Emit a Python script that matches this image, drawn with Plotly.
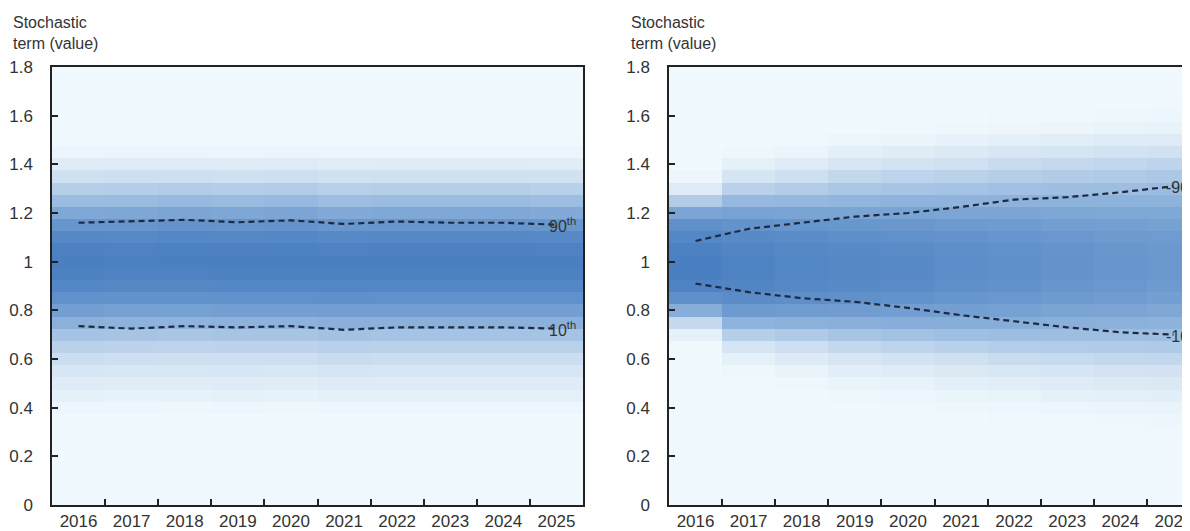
import numpy as np
import plotly.graph_objects as go

# ---------------- data ----------------
years = ["2016", "2017", "2018", "2019", "2020", "2021", "2022", "2023", "2024", "2025"]
y_bins = [0.30, 0.35, 0.40, 0.45, 0.50, 0.55, 0.60, 0.65, 0.70, 0.75, 0.80, 0.85, 0.90, 0.95,
          1.00, 1.05, 1.10, 1.15, 1.20, 1.25, 1.30, 1.35, 1.40, 1.45, 1.50, 1.55, 1.60, 1.65, 1.70]

# density intensity per year (columns listed bottom -> top)
left_density = [
    [0, 0, 0.03, 0.08, 0.13, 0.19, 0.27, 0.36, 0.47, 0.60, 0.72, 0.84, 0.93, 0.98, 1.00, 0.98, 0.92, 0.80, 0.66, 0.52, 0.38, 0.25, 0.13, 0.04, 0.01, 0, 0, 0, 0],
    [0, 0, 0.03, 0.07, 0.12, 0.18, 0.26, 0.35, 0.46, 0.59, 0.71, 0.83, 0.92, 0.97, 0.99, 0.97, 0.91, 0.80, 0.67, 0.53, 0.39, 0.26, 0.14, 0.05, 0.01, 0, 0, 0, 0],
    [0, 0, 0.02, 0.07, 0.12, 0.18, 0.25, 0.34, 0.45, 0.58, 0.71, 0.83, 0.92, 0.97, 1.00, 0.98, 0.93, 0.82, 0.68, 0.54, 0.40, 0.26, 0.14, 0.05, 0.01, 0, 0, 0, 0],
    [0, 0, 0.03, 0.08, 0.13, 0.19, 0.26, 0.35, 0.46, 0.59, 0.72, 0.84, 0.93, 0.98, 1.00, 0.98, 0.92, 0.81, 0.67, 0.53, 0.39, 0.25, 0.13, 0.04, 0.01, 0, 0, 0, 0],
    [0, 0, 0.02, 0.07, 0.12, 0.18, 0.26, 0.35, 0.46, 0.59, 0.72, 0.84, 0.93, 0.98, 1.00, 0.98, 0.93, 0.82, 0.68, 0.54, 0.40, 0.26, 0.14, 0.05, 0.01, 0, 0, 0, 0],
    [0, 0, 0.03, 0.08, 0.14, 0.20, 0.28, 0.37, 0.48, 0.61, 0.73, 0.85, 0.94, 0.98, 1.00, 0.97, 0.91, 0.79, 0.65, 0.51, 0.37, 0.24, 0.12, 0.04, 0.01, 0, 0, 0, 0],
    [0, 0, 0.03, 0.08, 0.13, 0.19, 0.27, 0.36, 0.47, 0.60, 0.72, 0.84, 0.93, 0.98, 1.00, 0.98, 0.92, 0.80, 0.66, 0.52, 0.38, 0.25, 0.13, 0.04, 0.01, 0, 0, 0, 0],
    [0, 0, 0.03, 0.08, 0.13, 0.19, 0.27, 0.36, 0.47, 0.60, 0.72, 0.84, 0.93, 0.98, 1.00, 0.98, 0.92, 0.80, 0.66, 0.52, 0.38, 0.25, 0.13, 0.04, 0.01, 0, 0, 0, 0],
    [0, 0, 0.03, 0.08, 0.13, 0.19, 0.27, 0.36, 0.47, 0.60, 0.72, 0.84, 0.93, 0.98, 1.00, 0.98, 0.92, 0.80, 0.66, 0.52, 0.38, 0.25, 0.13, 0.04, 0.01, 0, 0, 0, 0],
    [0, 0, 0.03, 0.08, 0.13, 0.19, 0.27, 0.36, 0.47, 0.60, 0.72, 0.84, 0.93, 0.98, 1.00, 0.97, 0.91, 0.79, 0.65, 0.51, 0.37, 0.24, 0.12, 0.04, 0.01, 0, 0, 0, 0],
]
right_density = [
    [0, 0, 0, 0, 0, 0, 0, 0.01, 0.08, 0.30, 0.62, 0.85, 0.96, 1.00, 1.00, 0.98, 0.93, 0.85, 0.68, 0.40, 0.14, 0.03, 0, 0, 0, 0, 0, 0, 0],
    [0, 0, 0, 0, 0, 0.02, 0.08, 0.20, 0.38, 0.58, 0.76, 0.88, 0.95, 0.97, 0.97, 0.95, 0.90, 0.82, 0.70, 0.54, 0.36, 0.20, 0.08, 0.02, 0, 0, 0, 0, 0],
    [0, 0, 0, 0, 0.02, 0.06, 0.14, 0.26, 0.42, 0.60, 0.75, 0.86, 0.92, 0.94, 0.94, 0.92, 0.88, 0.80, 0.69, 0.55, 0.40, 0.26, 0.14, 0.05, 0.01, 0, 0, 0, 0],
    [0, 0, 0, 0.02, 0.05, 0.10, 0.19, 0.31, 0.46, 0.61, 0.74, 0.84, 0.90, 0.92, 0.92, 0.90, 0.86, 0.79, 0.69, 0.57, 0.44, 0.31, 0.19, 0.09, 0.03, 0, 0, 0, 0],
    [0, 0, 0.01, 0.03, 0.07, 0.13, 0.22, 0.34, 0.48, 0.62, 0.73, 0.82, 0.88, 0.90, 0.90, 0.88, 0.84, 0.78, 0.69, 0.58, 0.46, 0.34, 0.22, 0.12, 0.05, 0.01, 0, 0, 0],
    [0, 0, 0.02, 0.05, 0.09, 0.16, 0.25, 0.37, 0.50, 0.62, 0.72, 0.80, 0.85, 0.87, 0.87, 0.86, 0.82, 0.76, 0.68, 0.58, 0.47, 0.36, 0.25, 0.15, 0.07, 0.02, 0, 0, 0],
    [0, 0.01, 0.03, 0.06, 0.11, 0.18, 0.28, 0.39, 0.51, 0.62, 0.71, 0.78, 0.83, 0.85, 0.85, 0.84, 0.80, 0.75, 0.68, 0.59, 0.49, 0.38, 0.28, 0.18, 0.09, 0.03, 0.01, 0, 0],
    [0, 0.01, 0.04, 0.08, 0.13, 0.20, 0.29, 0.40, 0.51, 0.61, 0.69, 0.76, 0.80, 0.82, 0.82, 0.81, 0.78, 0.73, 0.67, 0.59, 0.50, 0.40, 0.30, 0.20, 0.11, 0.04, 0.01, 0, 0],
    [0.01, 0.02, 0.05, 0.09, 0.15, 0.22, 0.31, 0.41, 0.51, 0.60, 0.68, 0.74, 0.78, 0.80, 0.80, 0.79, 0.76, 0.72, 0.66, 0.59, 0.51, 0.42, 0.32, 0.22, 0.13, 0.06, 0.02, 0, 0],
    [0.01, 0.03, 0.06, 0.10, 0.16, 0.23, 0.32, 0.42, 0.51, 0.59, 0.66, 0.72, 0.76, 0.78, 0.78, 0.77, 0.75, 0.71, 0.66, 0.59, 0.52, 0.44, 0.34, 0.24, 0.14, 0.07, 0.03, 0.01, 0],
]

left_p90 = [1.160, 1.165, 1.172, 1.162, 1.170, 1.155, 1.165, 1.160, 1.160, 1.152]
left_p10 = [0.735, 0.725, 0.735, 0.730, 0.735, 0.720, 0.730, 0.730, 0.730, 0.725]
right_p90 = [1.085, 1.135, 1.160, 1.185, 1.200, 1.225, 1.255, 1.265, 1.285, 1.310]
right_p10 = [0.910, 0.875, 0.850, 0.835, 0.810, 0.780, 0.755, 0.730, 0.710, 0.700]

y_title = "Stochastic<br>term (value)"

# ---------------- style ----------------
OFF = 8                      # page body margin in the browser
W, H = 1190 - OFF, 531 - OFF
FONT = "Liberation Sans, Arial, sans-serif"
TXT = "#333333"
BG = "#f0f9fd"
CSCALE = [[0, BG], [0.25, "#cfe0f1"], [0.5, "#9fbfe2"], [0.75, "#6e9bd0"], [1, "#4a7fc1"]]
LINE_C = "#1e2a42"


def px(v):
    return v - OFF


plot_top, plot_bot = px(67), px(505)
ydom = [(H - plot_bot) / H, (H - plot_top) / H]
left_dom = [px(52) / W, px(583) / W]
right_dom = [px(669) / W, 1.0]
cat_px = (583 - 52) / 10.0
right_xmax = -0.5 + (W - px(669)) / cat_px

fig = go.Figure()


def add_panel(density, p90, p10, xa, ya, lab90, lab10):
    z = np.array(density).T  # rows = y bins, cols = years
    fig.add_trace(go.Heatmap(x=years, y=y_bins, z=z, colorscale=CSCALE, zmin=0, zmax=1,
                             showscale=False, hoverinfo="skip", xaxis=xa, yaxis=ya))
    for vals in (p90, p10):
        fig.add_trace(go.Scatter(x=years, y=vals, mode="lines", xaxis=xa, yaxis=ya,
                                 line=dict(color=LINE_C, width=2.2, dash="6px,4px"),
                                 showlegend=False, hoverinfo="skip"))
    for vals, lab in ((p90, lab90), (p10, lab10)):
        fig.add_annotation(x=8.85, y=vals[-1], xref=xa, yref=ya, text=lab, showarrow=False,
                           xanchor="left", yanchor="middle", borderpad=0,
                           font=dict(size=16, color=TXT, family=FONT))


add_panel(left_density, left_p90, left_p10, "x", "y", "90<sup>th</sup>", "10<sup>th</sup>")
add_panel(right_density, right_p90, right_p10, "x2", "y2", "-90<sup>th</sup>", "-10<sup>th</sup>")

xcommon = dict(type="category", tickson="boundaries", ticks="inside", ticklen=6, tickwidth=1.5,
               tickcolor="#222", showline=True, linecolor="#222", linewidth=1.5,
               showgrid=False, zeroline=False, automargin=False,
               tickfont=dict(size=17, color=TXT, family=FONT))
ycommon = dict(range=[0, 1.8], dtick=0.2, tick0=0, ticks="inside", ticklen=6, tickwidth=1.5,
               tickcolor="#222", showline=True, linecolor="#222", linewidth=1.5,
               showgrid=False, zeroline=False, automargin=False, ticklabelstandoff=14,
               tickfont=dict(size=17, color=TXT, family=FONT))

fig.update_layout(
    width=W, height=H, margin=dict(l=0, r=0, t=0, b=0),
    paper_bgcolor="white", plot_bgcolor=BG, showlegend=False,
    font=dict(family=FONT, color=TXT),
    xaxis=dict(domain=left_dom, range=[-0.5, 9.5], mirror=True, anchor="y", **xcommon),
    yaxis=dict(domain=ydom, mirror=True, anchor="x", **ycommon),
    xaxis2=dict(domain=right_dom, range=[-0.5, right_xmax], mirror=True, anchor="y2", **xcommon),
    yaxis2=dict(domain=ydom, mirror=False, anchor="x2", **ycommon),
)

for xpos in (11, 629):
    fig.add_annotation(x=px(xpos) / W, y=1 - px(12) / H, xref="paper", yref="paper", text=y_title,
                       showarrow=False, xanchor="left", yanchor="top", align="left",
                       font=dict(size=16, color=TXT, family=FONT))

fig.write_html("out.html")
